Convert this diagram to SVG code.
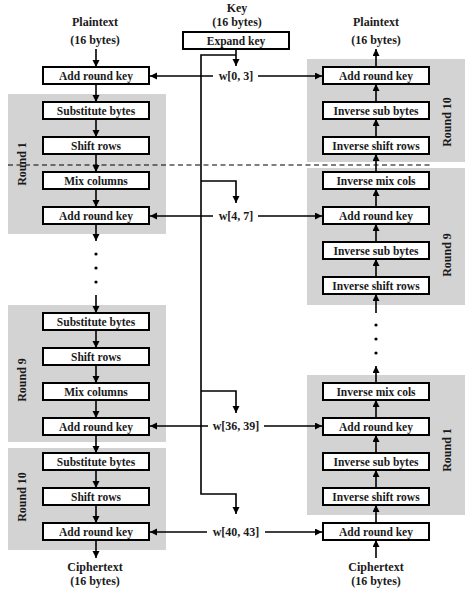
<svg xmlns="http://www.w3.org/2000/svg" width="474" height="600" viewBox="0 0 474 600">
<style>
.bg{fill:#d3d3d3}
.box{fill:#fff;stroke:#000;stroke-width:2}
.t{font-family:"Liberation Serif","Times New Roman",serif;font-weight:bold;font-size:11.5px;fill:#1a1a1a;text-anchor:middle}
.lb{font-family:"Liberation Serif","Times New Roman",serif;font-weight:bold;font-size:12px;fill:#1a1a1a;text-anchor:middle}
.ln{fill:none;stroke:#000;stroke-width:1.6}
.ar{marker-end:url(#ah)}
.dash{stroke:#000;stroke-width:1.2;stroke-dasharray:5 3.5;fill:none}
</style>
<defs>
<marker id="ah" markerUnits="userSpaceOnUse" markerWidth="8" markerHeight="8" refX="7" refY="3.5" orient="auto">
<path d="M0,0 L7,3.5 L0,7 z" fill="#000"/>
</marker>
</defs>

<g id="round-backgrounds">
<rect class="bg" x="8" y="94" width="158" height="140"/>
<rect class="bg" x="8" y="305" width="158" height="137"/>
<rect class="bg" x="8" y="448" width="158" height="102"/>
<rect class="bg" x="307" y="59" width="158" height="103"/>
<rect class="bg" x="307" y="168" width="158" height="137"/>
<rect class="bg" x="307" y="375" width="158" height="140"/>
</g>

<line class="dash" x1="8" y1="165" x2="430" y2="165"/>

<g id="labels">
<text class="lb" x="95" y="26">Plaintext</text>
<text class="lb" x="95" y="44">(16 bytes)</text>
<text class="lb" x="237" y="12">Key</text>
<text class="lb" x="237" y="26">(16 bytes)</text>
<text class="lb" x="376" y="26">Plaintext</text>
<text class="lb" x="376" y="44">(16 bytes)</text>
<text class="lb" x="95" y="571">Ciphertext</text>
<text class="lb" x="95" y="585">(16 bytes)</text>
<text class="lb" x="376" y="571">Ciphertext</text>
<text class="lb" x="376" y="585">(16 bytes)</text>
<text class="lb" transform="rotate(-90 26 164)" x="26" y="164">Round 1</text>
<text class="lb" transform="rotate(-90 26 380)" x="26" y="380">Round 9</text>
<text class="lb" transform="rotate(-90 26 497)" x="26" y="497">Round 10</text>
<text class="lb" transform="rotate(-90 451 122)" x="451" y="122">Round 10</text>
<text class="lb" transform="rotate(-90 451 255)" x="451" y="255">Round 9</text>
<text class="lb" transform="rotate(-90 451 450)" x="451" y="450">Round 1</text>
<text class="lb" x="236" y="80">w[0, 3]</text>
<text class="lb" x="236" y="220">w[4, 7]</text>
<text class="lb" x="236" y="430">w[36, 39]</text>
<text class="lb" x="236" y="536">w[40, 43]</text>
</g>

<g id="expand-key"><rect class="box" x="183" y="32" width="106" height="17"/><text class="t" x="236" y="44.5">Expand key</text></g>

<g id="enc-ark0"><rect class="box" x="43" y="67" width="106" height="17"/><text class="t" x="96" y="79.5">Add round key</text></g>
<g id="enc-sub1"><rect class="box" x="43" y="102" width="106" height="17"/><text class="t" x="96" y="114.5">Substitute bytes</text></g>
<g id="enc-shift1"><rect class="box" x="43" y="137" width="106" height="17"/><text class="t" x="96" y="149.5">Shift rows</text></g>
<g id="enc-mix1"><rect class="box" x="43" y="172" width="106" height="17"/><text class="t" x="96" y="184.5">Mix columns</text></g>
<g id="enc-ark1"><rect class="box" x="43" y="207" width="106" height="17"/><text class="t" x="96" y="219.5">Add round key</text></g>
<g id="enc-sub9"><rect class="box" x="43" y="313" width="106" height="17"/><text class="t" x="96" y="325.5">Substitute bytes</text></g>
<g id="enc-shift9"><rect class="box" x="43" y="348" width="106" height="17"/><text class="t" x="96" y="360.5">Shift rows</text></g>
<g id="enc-mix9"><rect class="box" x="43" y="383" width="106" height="17"/><text class="t" x="96" y="395.5">Mix columns</text></g>
<g id="enc-ark9"><rect class="box" x="43" y="418" width="106" height="17"/><text class="t" x="96" y="430.5">Add round key</text></g>
<g id="enc-sub10"><rect class="box" x="43" y="453" width="106" height="17"/><text class="t" x="96" y="465.5">Substitute bytes</text></g>
<g id="enc-shift10"><rect class="box" x="43" y="488" width="106" height="17"/><text class="t" x="96" y="500.5">Shift rows</text></g>
<g id="enc-ark10"><rect class="box" x="43" y="523" width="106" height="17"/><text class="t" x="96" y="535.5">Add round key</text></g>

<g id="dec-ark10"><rect class="box" x="323" y="67" width="106" height="17"/><text class="t" x="376" y="79.5">Add round key</text></g>
<g id="dec-isub10"><rect class="box" x="323" y="102" width="106" height="17"/><text class="t" x="376" y="114.5">Inverse sub bytes</text></g>
<g id="dec-ishift10"><rect class="box" x="323" y="137" width="106" height="17"/><text class="t" x="376" y="149.5">Inverse shift rows</text></g>
<g id="dec-imix9"><rect class="box" x="323" y="172" width="106" height="17"/><text class="t" x="376" y="184.5">Inverse mix cols</text></g>
<g id="dec-ark9"><rect class="box" x="323" y="207" width="106" height="17"/><text class="t" x="376" y="219.5">Add round key</text></g>
<g id="dec-isub9"><rect class="box" x="323" y="242" width="106" height="17"/><text class="t" x="376" y="254.5">Inverse sub bytes</text></g>
<g id="dec-ishift9"><rect class="box" x="323" y="277" width="106" height="17"/><text class="t" x="376" y="289.5">Inverse shift rows</text></g>
<g id="dec-imix1"><rect class="box" x="323" y="383" width="106" height="17"/><text class="t" x="376" y="395.5">Inverse mix cols</text></g>
<g id="dec-ark1"><rect class="box" x="323" y="418" width="106" height="17"/><text class="t" x="376" y="430.5">Add round key</text></g>
<g id="dec-isub1"><rect class="box" x="323" y="453" width="106" height="17"/><text class="t" x="376" y="465.5">Inverse sub bytes</text></g>
<g id="dec-ishift1"><rect class="box" x="323" y="488" width="106" height="17"/><text class="t" x="376" y="500.5">Inverse shift rows</text></g>
<g id="dec-ark0"><rect class="box" x="323" y="523" width="106" height="17"/><text class="t" x="376" y="535.5">Add round key</text></g>

<g id="connectors">
<g class="ln ar">
<line x1="96" y1="49" x2="96" y2="67"/>
<line x1="96" y1="84" x2="96" y2="102"/>
<line x1="96" y1="119" x2="96" y2="137"/>
<line x1="96" y1="154" x2="96" y2="172"/>
<line x1="96" y1="189" x2="96" y2="207"/>
<line x1="96" y1="224" x2="96" y2="241"/>
<line x1="96" y1="295" x2="96" y2="313"/>
<line x1="96" y1="330" x2="96" y2="348"/>
<line x1="96" y1="365" x2="96" y2="383"/>
<line x1="96" y1="400" x2="96" y2="418"/>
<line x1="96" y1="435" x2="96" y2="453"/>
<line x1="96" y1="470" x2="96" y2="488"/>
<line x1="96" y1="505" x2="96" y2="523"/>
<line x1="96" y1="540" x2="96" y2="558"/>

<line x1="376" y1="67" x2="376" y2="49"/>
<line x1="376" y1="102" x2="376" y2="84"/>
<line x1="376" y1="137" x2="376" y2="119"/>
<line x1="376" y1="172" x2="376" y2="154"/>
<line x1="376" y1="207" x2="376" y2="189"/>
<line x1="376" y1="242" x2="376" y2="224"/>
<line x1="376" y1="277" x2="376" y2="259"/>
<line x1="376" y1="313" x2="376" y2="294"/>
<line x1="376" y1="383" x2="376" y2="366"/>
<line x1="376" y1="418" x2="376" y2="400"/>
<line x1="376" y1="453" x2="376" y2="435"/>
<line x1="376" y1="488" x2="376" y2="470"/>
<line x1="376" y1="523" x2="376" y2="505"/>
<line x1="376" y1="558" x2="376" y2="540"/>

<line x1="236" y1="49" x2="236" y2="66"/>
<path d="M201,181 H236 V203"/>
<path d="M201,391 H236 V413"/>
<path d="M236,55 H201 V494 H236 V514"/>

<line x1="213" y1="76" x2="150" y2="76"/>
<line x1="258" y1="76" x2="322" y2="76"/>
<line x1="213" y1="216" x2="150" y2="216"/>
<line x1="258" y1="216" x2="322" y2="216"/>
<line x1="208" y1="426" x2="150" y2="426"/>
<line x1="264" y1="426" x2="322" y2="426"/>
<line x1="207" y1="532" x2="150" y2="532"/>
<line x1="265" y1="532" x2="322" y2="532"/>
</g>
<g fill="#000">
<circle cx="96" cy="254" r="1.6"/>
<circle cx="96" cy="268" r="1.6"/>
<circle cx="96" cy="282" r="1.6"/>
<circle cx="376" cy="325" r="1.6"/>
<circle cx="376" cy="339" r="1.6"/>
<circle cx="376" cy="353" r="1.6"/>
</g>
</g>
</svg>
